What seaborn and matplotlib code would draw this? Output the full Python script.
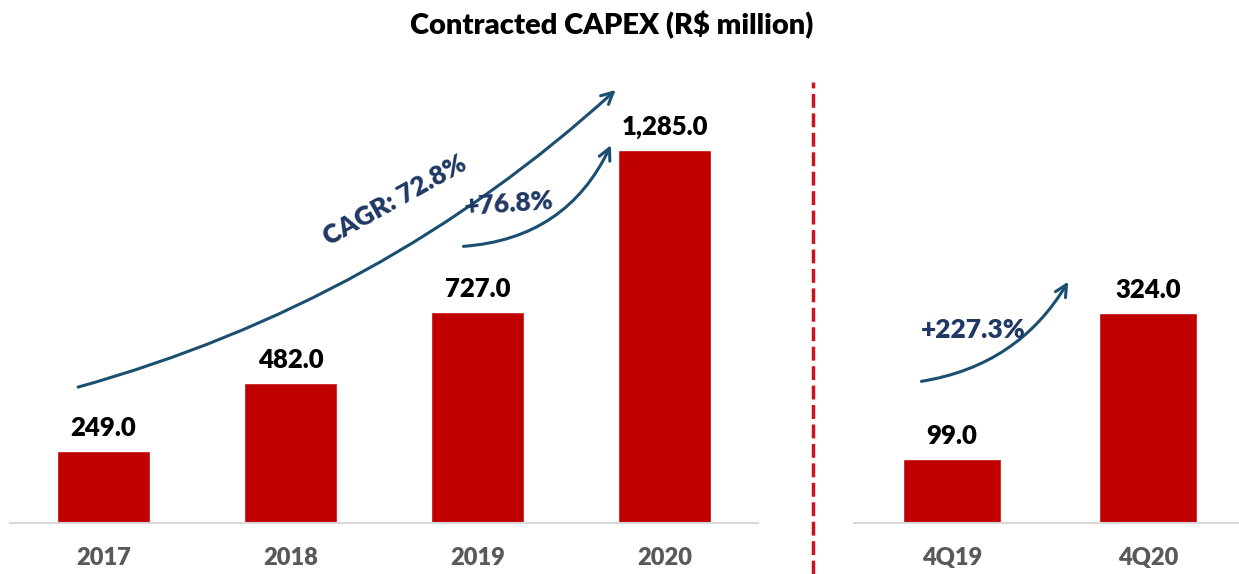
import matplotlib
matplotlib.use("Agg")
import matplotlib.pyplot as plt
from matplotlib.lines import Line2D
import seaborn as sns
import pandas as pd

# ── Data ──────────────────────────────────────────────────────────────────────
years = ["2017", "2018", "2019", "2020"]
capex_year = [249.0, 482.0, 727.0, 1285.0]
quarters = ["4Q19", "4Q20"]
capex_quarter = [99.0, 324.0]

cagr_label = "CAGR: 72.8%"
yoy_label = "+76.8%"
qoq_label = "+227.3%"

BAR_RED = "#C00000"
ARROW_BLUE = "#1B4F72"
TEXT_BLUE = "#203864"
TICK_GRAY = "#595959"
FONT = ["Lato", "DejaVu Sans"]
HEAVY = "heavy"

sns.set_theme(style="white")
plt.rcParams["font.family"] = FONT

fig = plt.figure(figsize=(12.39, 5.74), dpi=100)
W, H = 1239, 574
base_px, top_px = 523, 60

ax_l = fig.add_axes([10 / W, (H - base_px) / H, 748 / W, (base_px - top_px) / H])
ax_r = fig.add_axes([854 / W, (H - base_px) / H, 392 / W, (base_px - top_px) / H])

df_l = pd.DataFrame({"period": years, "capex": capex_year})
df_r = pd.DataFrame({"period": quarters, "capex": capex_quarter})

for ax, df, ymax in [(ax_l, df_l, 1595), (ax_r, df_r, 714)]:
    sns.barplot(data=df, x="period", y="capex", color=BAR_RED, width=0.5,
                saturation=1, ax=ax)
    ax.set_ylim(0, ymax)
    ax.set_xlim(-0.5, len(df) - 0.5)
    ax.bar_label(ax.containers[0], labels=[f"{v:,.1f}" for v in df["capex"]],
                 padding=8, fontsize=18.5, fontweight=HEAVY, color="black",
                 family=FONT)
    ax.set_xlabel("")
    ax.set_ylabel("")
    ax.set_yticks([])
    sns.despine(ax=ax, left=True)
    ax.spines["bottom"].set_color("#D9D9D9")
    ax.spines["bottom"].set_linewidth(1.5)
    ax.tick_params(axis="x", length=0, pad=17)
    for t in ax.get_xticklabels():
        t.set_fontsize(17)
        t.set_fontweight(HEAVY)
        t.set_color(TICK_GRAY)
    ax.patch.set_alpha(0)


def curved_arrow(ax, start, end, rad):
    ax.annotate("", xy=end, xytext=start,
                arrowprops=dict(arrowstyle="->,head_length=0.7,head_width=0.35",
                                color=ARROW_BLUE, lw=2.2,
                                connectionstyle=f"arc3,rad={rad}"),
                annotation_clip=False)


# growth arrows, anchored near the bars they compare
curved_arrow(ax_l, (-0.15, capex_year[0] * 1.87), (2.75, capex_year[3] * 1.166), 0.12)
curved_arrow(ax_l, (1.91, capex_year[2] * 1.31), (2.72, capex_year[3] * 1.02), 0.3)
curved_arrow(ax_r, (-0.17, capex_quarter[0] * 2.2), (0.60, capex_quarter[1] * 1.16), 0.24)

ax_l.text(1.56, 1113, cagr_label, rotation=29, ha="center", va="center",
          fontsize=19, fontweight=HEAVY, color=TEXT_BLUE)
ax_l.text(2.17, 1100, yoy_label, rotation=4, ha="center", va="center",
          fontsize=19, fontweight=HEAVY, color=TEXT_BLUE)
ax_r.text(0.11, 298, qoq_label, ha="center", va="center",
          fontsize=19, fontweight=HEAVY, color=TEXT_BLUE)

# dashed divider between annual and quarterly panels
fig.add_artist(Line2D([813 / W, 813 / W], [0, 1 - 82 / H], transform=fig.transFigure,
                      color="#C9141E", lw=2.5, linestyle=(0, (4, 1.6))))

fig.text(0.494, 1 - 25 / H, "Contracted CAPEX (R$ million)", ha="center", va="center",
         fontsize=21, fontweight=HEAVY, color="black")

fig.savefig("out.png", dpi=100)
